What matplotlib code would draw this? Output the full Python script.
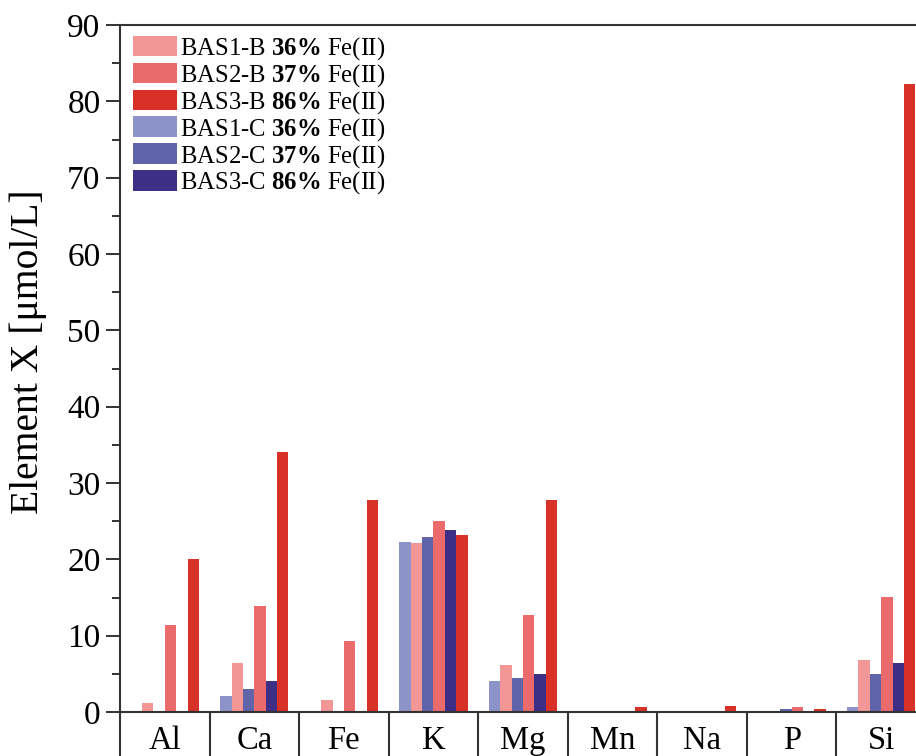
import numpy as np
import matplotlib
matplotlib.use('Agg')
import matplotlib.pyplot as plt
from matplotlib.patches import Patch
from matplotlib.ticker import MultipleLocator

plt.rcParams['font.family'] = ['Liberation Serif', 'DejaVu Serif']
plt.rcParams['mathtext.fontset'] = 'custom'
plt.rcParams['mathtext.rm'] = 'Liberation Serif'
plt.rcParams['mathtext.bf'] = 'Liberation Serif:bold'

elements = ['Al', 'Ca', 'Fe', 'K', 'Mg', 'Mn', 'Na', 'P', 'Si']

# concentrations in umol/L (0 = not shown)
bas1_b = [1.2, 6.4, 1.6, 22.2, 6.1, 0.0, 0.0, 0.1, 6.8]
bas2_b = [11.4, 13.9, 9.3, 25.0, 12.7, 0.15, 0.0, 0.7, 15.1]
bas3_b = [20.0, 34.1, 27.8, 23.2, 27.8, 0.7, 0.8, 0.35, 82.3]
bas1_c = [0.0, 2.1, 0.0, 22.3, 4.0, 0.0, 0.0, 0.0, 0.6]
bas2_c = [0.0, 3.0, 0.0, 22.9, 4.5, 0.0, 0.0, 0.4, 5.0]
bas3_c = [0.0, 4.0, 0.0, 23.8, 5.0, 0.0, 0.0, 0.0, 6.4]

names = ['BAS1-B', 'BAS2-B', 'BAS3-B', 'BAS1-C', 'BAS2-C', 'BAS3-C']
fe2 = ['36', '37', '86', '36', '37', '86']
colors = ['#F29696', '#EB6A6C', '#D83127', '#8B93C8', '#6065AA', '#3D2F86']
series = [bas1_b, bas2_b, bas3_b, bas1_c, bas2_c, bas3_c]
# position of each series inside a group (C and B interleaved)
slots = [-1.5, 0.5, 2.5, -2.5, -0.5, 1.5]

fig = plt.figure(figsize=(9.16, 7.56), dpi=100)
ax = fig.add_axes([120/916, 44/756, 806/916, 687/756])

x = np.arange(len(elements))
w = 0.127
for vals, c, s in zip(series, colors, slots):
    ax.bar(x + s*w, vals, width=w, color=c, linewidth=0)

ax.set_xlim(-0.5, len(elements) - 0.5)
ax.set_ylim(0, 90)
ax.yaxis.set_major_locator(MultipleLocator(10))
ax.yaxis.set_minor_locator(MultipleLocator(5))
ax.tick_params(axis='y', which='major', direction='out', length=10, width=1.4,
               labelsize=24, pad=4, color='#333333')
ax.tick_params(axis='y', which='minor', direction='out', length=6, width=1.4,
               color='#333333')
ax.set_xticks(x)
ax.set_xticklabels(elements)
ax.tick_params(axis='x', length=0, labelsize=23.5, pad=10)
for sp in ax.spines.values():
    sp.set_linewidth(1.5)
    sp.set_color('#333333')

# table-like separators under the axis
ax.vlines(np.arange(-0.5, len(elements)), -10, 0, colors='#333333',
          linewidth=1.5, clip_on=False)

ax.set_ylabel('Element X [μmol/L]', fontsize=28.5)
ax.yaxis.set_label_coords(-0.09, 0.525)

handles = [Patch(facecolor=c, edgecolor='none') for c in colors]
labels = [n + r' $\mathbf{' + f + r'\%}$ Fe(II)' for n, f in zip(names, fe2)]
ax.legend(handles, labels, loc='upper left', bbox_to_anchor=(0.016, 0.985),
          frameon=False, fontsize=17.8, handlelength=1.8, handleheight=0.9,
          handletextpad=0.12, labelspacing=0.0, borderpad=0, borderaxespad=0)

plt.savefig('out.png', dpi=100)
